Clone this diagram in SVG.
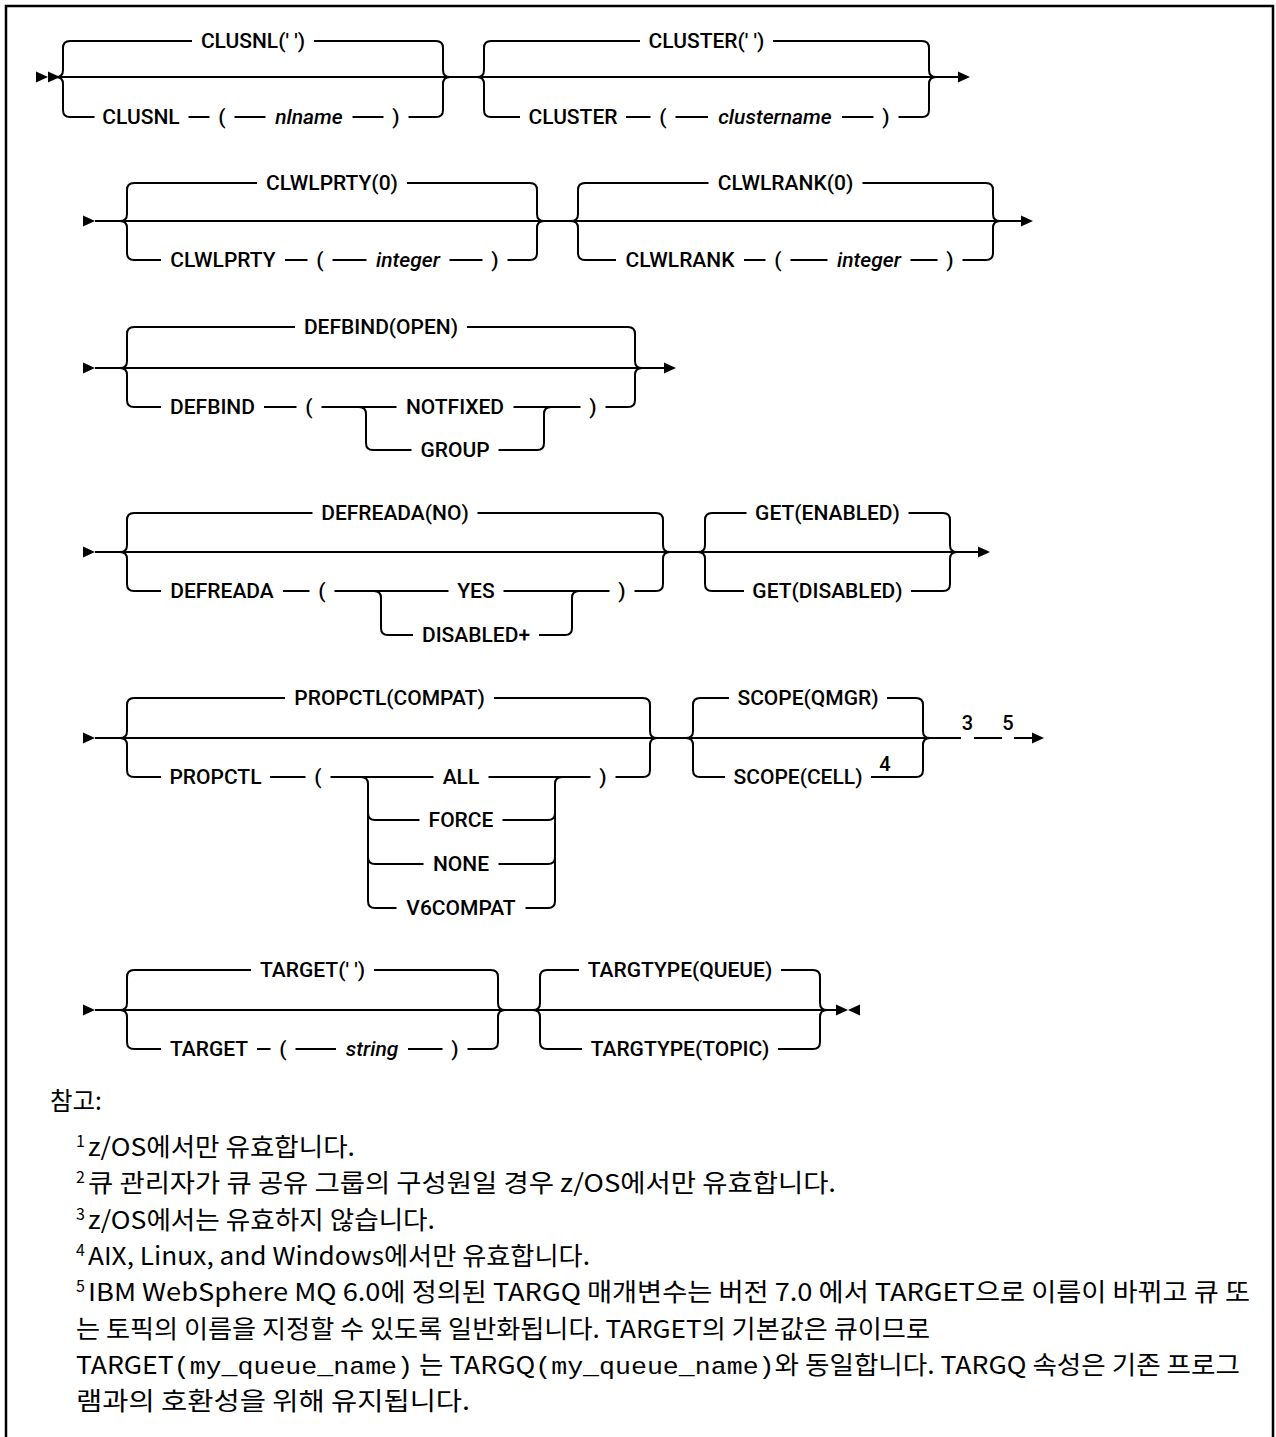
<svg xmlns="http://www.w3.org/2000/svg" width="1276" height="1437" viewBox="0 0 1276 1437">
<style>
.ln{fill:none;stroke:#000;stroke-width:2}
.t{font-family:Roboto,"Liberation Sans",sans-serif;font-size:21px;font-weight:500;fill:#000}
.m{text-anchor:middle}
.i{font-style:italic}
.sup{font-size:20px}
.n{font-family:"Noto Sans CJK KR","Noto Sans",sans-serif;font-size:24.5px;fill:#000}
.ns{font-family:"Noto Sans CJK KR","Noto Sans",sans-serif;font-size:16px;fill:#000}
.mono{font-family:"Liberation Mono",monospace}
</style>
<defs>
<path id="ar" d="M0,-5.5 L12,0 L0,5.5Z" fill="#000"/>
<path id="al" d="M12,-5.5 L0,0 L12,5.5Z" fill="#000"/>
</defs>
<rect width="1276" height="1437" fill="#fff"/>
<path d="M6 1437 V6 H1273 V1437" fill="none" stroke="#000" stroke-width="2.5"/>

<g id="connectors">
<!-- row 1 -->
<use href="#ar" x="36" y="77"/><use href="#ar" x="48" y="77"/>
<path class="ln" d="M60 77 H958"/>
<use href="#ar" x="958" y="77"/>
<path class="ln" d="M70 41 Q63 41 63 48 V70 Q63 77 56 77 Q63 77 63 84 V110 Q63 117 70 117"/>
<path class="ln" d="M436 41 Q443 41 443 48 V70 Q443 77 450 77 Q443 77 443 84 V110 Q443 117 436 117"/>
<path class="ln" d="M70 41 H192 M314 41 H436"/>
<path class="ln" d="M70 117 H94.5 M188.5 117 H209.5 M234.5 117 H265.5 M352.5 117 H383.5 M408.5 117 H436"/>
<path class="ln" d="M491 41 Q484 41 484 48 V70 Q484 77 477 77 Q484 77 484 84 V110 Q484 117 491 117"/>
<path class="ln" d="M922 41 Q929 41 929 48 V70 Q929 77 936 77 Q929 77 929 84 V110 Q929 117 922 117"/>
<path class="ln" d="M491 41 H640 M773 41 H922"/>
<path class="ln" d="M491 117 H520 M626 117 H650.5 M675.5 117 H708 M842 117 H873.5 M898.5 117 H922"/>
<!-- row 2 -->
<use href="#ar" x="83" y="221"/>
<path class="ln" d="M95 221 H1022"/>
<use href="#ar" x="1021" y="221"/>
<path class="ln" d="M134 183 Q127 183 127 190 V214 Q127 221 120 221 Q127 221 127 228 V253 Q127 260 134 260"/>
<path class="ln" d="M530 183 Q537 183 537 190 V214 Q537 221 544 221 Q537 221 537 228 V253 Q537 260 530 260"/>
<path class="ln" d="M134 183 H257 M407 183 H530"/>
<path class="ln" d="M134 260 H161 M285 260 H307.5 M332.5 260 H366.5 M449.5 260 H482.5 M507.5 260 H530"/>
<path class="ln" d="M585 183 Q578 183 578 190 V214 Q578 221 571 221 Q578 221 578 228 V253 Q578 260 585 260"/>
<path class="ln" d="M986 183 Q993 183 993 190 V214 Q993 221 1000 221 Q993 221 993 228 V253 Q993 260 986 260"/>
<path class="ln" d="M585 183 H708.5 M862.5 183 H986"/>
<path class="ln" d="M585 260 H616 M744 260 H765.5 M790.5 260 H827.5 M910.5 260 H937.5 M962.5 260 H986"/>
<!-- row 3 -->
<use href="#ar" x="83" y="368"/>
<path class="ln" d="M95 368 H665"/>
<use href="#ar" x="664" y="368"/>
<path class="ln" d="M134 327 Q127 327 127 334 V361 Q127 368 120 368 Q127 368 127 375 V400 Q127 407 134 407"/>
<path class="ln" d="M628 327 Q635 327 635 334 V361 Q635 368 642 368 Q635 368 635 375 V400 Q635 407 628 407"/>
<path class="ln" d="M134 327 H295 M467 327 H628"/>
<path class="ln" d="M134 407 H161 M264 407 H296.5 M321.5 407 H396.5 M513.5 407 H580.5 M605.5 407 H628"/>
<path class="ln" d="M359 407 Q366 407 366 414 V443 Q366 450 373 450 M537 450 Q544 450 544 443 V414 Q544 407 551 407"/>
<path class="ln" d="M373 450 H411.5 M498.5 450 H537"/>
<!-- row 4 -->
<use href="#ar" x="83" y="552"/>
<path class="ln" d="M95 552 H979"/>
<use href="#ar" x="978" y="552"/>
<path class="ln" d="M134 513 Q127 513 127 520 V545 Q127 552 120 552 Q127 552 127 559 V584 Q127 591 134 591"/>
<path class="ln" d="M656 513 Q663 513 663 520 V545 Q663 552 670 552 Q663 552 663 559 V584 Q663 591 656 591"/>
<path class="ln" d="M134 513 H312.5 M477.5 513 H656"/>
<path class="ln" d="M134 591 H161 M283 591 H309.5 M334.5 591 H448.5 M503.5 591 H609.5 M634.5 591 H656"/>
<path class="ln" d="M374 591 Q381 591 381 598 V628 Q381 635 388 635 M565 635 Q572 635 572 628 V598 Q572 591 579 591"/>
<path class="ln" d="M388 635 H413 M539 635 H565"/>
<path class="ln" d="M712 513 Q705 513 705 520 V545 Q705 552 698 552 Q705 552 705 559 V584 Q705 591 712 591"/>
<path class="ln" d="M943 513 Q950 513 950 520 V545 Q950 552 957 552 Q950 552 950 559 V584 Q950 591 943 591"/>
<path class="ln" d="M712 513 H746.5 M908.5 513 H943"/>
<path class="ln" d="M712 591 H744 M911 591 H943"/>
<!-- row 5 -->
<use href="#ar" x="83" y="738"/>
<path class="ln" d="M95 738 H961 M974 738 H1002 M1014 738 H1033"/>
<use href="#ar" x="1032" y="738"/>
<path class="ln" d="M134 698 Q127 698 127 705 V731 Q127 738 120 738 Q127 738 127 745 V770 Q127 777 134 777"/>
<path class="ln" d="M643 698 Q650 698 650 705 V731 Q650 738 657 738 Q650 738 650 745 V770 Q650 777 643 777"/>
<path class="ln" d="M134 698 H285 M494 698 H643"/>
<path class="ln" d="M134 777 H161 M270 777 H305.5 M330.5 777 H433.5 M488.5 777 H590.5 M615.5 777 H643"/>
<path class="ln" d="M361 777 Q368 777 368 784 V901 Q368 908 375 908 M368 813 Q368 820 375 820 M368 857 Q368 864 375 864"/>
<path class="ln" d="M548 908 Q555 908 555 901 V784 Q555 777 562 777 M548 820 Q555 820 555 813 M548 864 Q555 864 555 857"/>
<path class="ln" d="M375 820 H419.5 M502.5 820 H548 M375 864 H423.5 M498.5 864 H548 M375 908 H396.5 M525.5 908 H548"/>
<path class="ln" d="M700 698 Q693 698 693 705 V731 Q693 738 686 738 Q693 738 693 745 V770 Q693 777 700 777"/>
<path class="ln" d="M916 698 Q923 698 923 705 V731 Q923 738 930 738 Q923 738 923 745 V770 Q923 777 916 777"/>
<path class="ln" d="M700 698 H729 M887 698 H916"/>
<path class="ln" d="M700 777 H725 M871 777 H916"/>
<!-- row 6 -->
<use href="#ar" x="83" y="1010"/>
<path class="ln" d="M95 1010 H837"/>
<use href="#ar" x="836" y="1010"/><use href="#al" x="848" y="1010"/>
<path class="ln" d="M134 970 Q127 970 127 977 V1003 Q127 1010 120 1010 Q127 1010 127 1017 V1042 Q127 1049 134 1049"/>
<path class="ln" d="M491 970 Q498 970 498 977 V1003 Q498 1010 505 1010 Q498 1010 498 1017 V1042 Q498 1049 491 1049"/>
<path class="ln" d="M134 970 H251 M374 970 H491"/>
<path class="ln" d="M134 1049 H161 M257 1049 H270.5 M295.5 1049 H336 M408 1049 H442.5 M467.5 1049 H491"/>
<path class="ln" d="M547 970 Q540 970 540 977 V1003 Q540 1010 533 1010 Q540 1010 540 1017 V1042 Q540 1049 547 1049"/>
<path class="ln" d="M813 970 Q820 970 820 977 V1003 Q820 1010 827 1010 Q820 1010 820 1017 V1042 Q820 1049 813 1049"/>
<path class="ln" d="M547 970 H579 M781 970 H813"/>
<path class="ln" d="M547 1049 H582 M778 1049 H813"/>
</g>

<g id="clusnl">
<text class="t m" x="253" y="48">CLUSNL(' ')</text>
<text class="t m" x="141" y="124">CLUSNL</text>
<text class="t m" x="222" y="124">(</text>
<text class="t m i" x="309" y="124">nlname</text>
<text class="t m" x="396" y="124">)</text>
</g>
<g id="cluster">
<text class="t m" x="706.5" y="48">CLUSTER(' ')</text>
<text class="t m" x="573" y="124">CLUSTER</text>
<text class="t m" x="663" y="124">(</text>
<text class="t m i" x="775" y="124">clustername</text>
<text class="t m" x="886" y="124">)</text>
</g>
<g id="clwlprty">
<text class="t m" x="332" y="190">CLWLPRTY(0)</text>
<text class="t m" x="223" y="267">CLWLPRTY</text>
<text class="t m" x="320" y="267">(</text>
<text class="t m i" x="408" y="267">integer</text>
<text class="t m" x="495" y="267">)</text>
</g>
<g id="clwlrank">
<text class="t m" x="785.5" y="190">CLWLRANK(0)</text>
<text class="t m" x="680" y="267">CLWLRANK</text>
<text class="t m" x="778" y="267">(</text>
<text class="t m i" x="869" y="267">integer</text>
<text class="t m" x="950" y="267">)</text>
</g>
<g id="defbind">
<text class="t m" x="381" y="334">DEFBIND(OPEN)</text>
<text class="t m" x="212.5" y="414">DEFBIND</text>
<text class="t m" x="309" y="414">(</text>
<text class="t m" x="455" y="414">NOTFIXED</text>
<text class="t m" x="455" y="457">GROUP</text>
<text class="t m" x="593" y="414">)</text>
</g>
<g id="defreada">
<text class="t m" x="395" y="520">DEFREADA(NO)</text>
<text class="t m" x="222" y="598">DEFREADA</text>
<text class="t m" x="322" y="598">(</text>
<text class="t m" x="476" y="598">YES</text>
<text class="t m" x="476" y="642">DISABLED+</text>
<text class="t m" x="622" y="598">)</text>
</g>
<g id="get">
<text class="t m" x="827.5" y="520">GET(ENABLED)</text>
<text class="t m" x="827.5" y="598">GET(DISABLED)</text>
</g>
<g id="propctl">
<text class="t m" x="389.5" y="705">PROPCTL(COMPAT)</text>
<text class="t m" x="215.5" y="784">PROPCTL</text>
<text class="t m" x="318" y="784">(</text>
<text class="t m" x="461" y="784">ALL</text>
<text class="t m" x="461" y="827">FORCE</text>
<text class="t m" x="461" y="871">NONE</text>
<text class="t m" x="461" y="915">V6COMPAT</text>
<text class="t m" x="603" y="784">)</text>
</g>
<g id="scope">
<text class="t m" x="808" y="705">SCOPE(QMGR)</text>
<text class="t m" x="798" y="784">SCOPE(CELL)</text>
<text class="t m sup" x="885" y="771">4</text>
<text class="t m sup" x="967.5" y="730">3</text>
<text class="t m sup" x="1008" y="730">5</text>
</g>
<g id="target">
<text class="t m" x="312.5" y="977">TARGET(' ')</text>
<text class="t m" x="209" y="1056">TARGET</text>
<text class="t m" x="283" y="1056">(</text>
<text class="t m i" x="372" y="1056">string</text>
<text class="t m" x="455" y="1056">)</text>
</g>
<g id="targtype">
<text class="t m" x="680" y="977">TARGTYPE(QUEUE)</text>
<text class="t m" x="680" y="1056">TARGTYPE(TOPIC)</text>
</g>

<g id="notes">
<text class="n" x="50" y="1110">참고:</text>
<text class="ns" x="76" y="1147">1</text><text class="n" x="88" y="1156" textLength="267" lengthAdjust="spacingAndGlyphs">z/OS에서만 유효합니다.</text>
<text class="ns" x="76" y="1183">2</text><text class="n" x="88" y="1192" textLength="748" lengthAdjust="spacingAndGlyphs">큐 관리자가 큐 공유 그룹의 구성원일 경우 z/OS에서만 유효합니다.</text>
<text class="ns" x="76" y="1220">3</text><text class="n" x="88" y="1229" textLength="347" lengthAdjust="spacingAndGlyphs">z/OS에서는 유효하지 않습니다.</text>
<text class="ns" x="76" y="1256">4</text><text class="n" x="88" y="1265" textLength="502" lengthAdjust="spacingAndGlyphs">AIX, Linux, and Windows에서만 유효합니다.</text>
<text class="ns" x="76" y="1292">5</text><text class="n" x="88" y="1301" textLength="1162" lengthAdjust="spacingAndGlyphs">IBM WebSphere MQ 6.0에 정의된 TARGQ 매개변수는 버전 7.0 에서 TARGET으로 이름이 바뀌고 큐 또</text>
<text class="n" x="76" y="1338" textLength="854" lengthAdjust="spacingAndGlyphs">는 토픽의 이름을 지정할 수 있도록 일반화됩니다. TARGET의 기본값은 큐이므로</text>
<text class="n" x="76" y="1374" textLength="1164" lengthAdjust="spacingAndGlyphs">TARGET<tspan class="mono">(my_queue_name)</tspan> 는 TARGQ<tspan class="mono">(my_queue_name)</tspan>와 동일합니다. TARGQ 속성은 기존 프로그</text>
<text class="n" x="76" y="1410" textLength="394" lengthAdjust="spacingAndGlyphs">램과의 호환성을 위해 유지됩니다.</text>
</g>
</svg>
